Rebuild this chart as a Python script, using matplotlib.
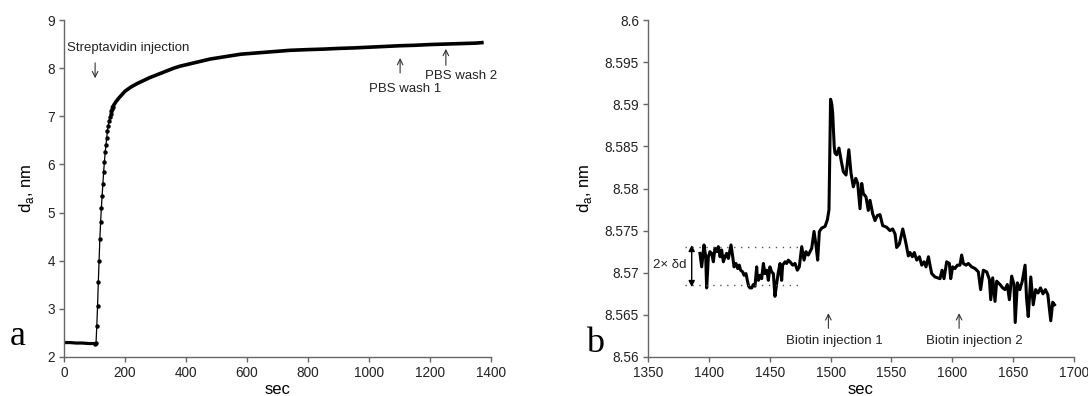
import numpy as np
import matplotlib
matplotlib.use("Agg")
import matplotlib.pyplot as plt
from matplotlib.ticker import FormatStrFormatter, MultipleLocator

plt.rcParams['font.family'] = ['Liberation Sans', 'DejaVu Sans']
plt.rcParams['mathtext.fontset'] = 'custom'
plt.rcParams['mathtext.rm'] = 'Liberation Sans'

# panel a: streptavidin adsorption
t_a = [0, 20, 40, 60, 80, 100, 102,
       105, 107.5, 110, 112.5, 115, 117.5, 120, 122.5, 125, 127.5, 130, 132.5,
       135, 137.5, 140, 142.5, 145, 147.5, 150, 152.5, 155, 157.5, 160,
       170, 180, 190, 200, 220, 240, 260, 280, 300, 320, 340, 360, 380, 400,
       420, 440, 460, 480, 500, 520, 540, 560, 580, 600, 620, 640, 660, 680,
       700, 720, 740, 760, 780, 800, 850, 900, 950, 1000, 1050, 1100, 1150,
       1200, 1250, 1300, 1350, 1370]
d_a = [2.30, 2.30, 2.29, 2.29, 2.28, 2.28, 2.28,
       2.29, 2.65, 3.05, 3.55, 4.00, 4.45, 4.80, 5.10, 5.35, 5.60, 5.85, 6.05,
       6.25, 6.40, 6.55, 6.70, 6.80, 6.90, 6.98, 7.04, 7.10, 7.15, 7.20,
       7.30, 7.38, 7.45, 7.52, 7.61, 7.68, 7.74, 7.80, 7.85, 7.90, 7.95, 8.00,
       8.04, 8.07, 8.10, 8.13, 8.16, 8.19, 8.21, 8.23, 8.25, 8.27, 8.29, 8.30,
       8.31, 8.32, 8.33, 8.34, 8.35, 8.36, 8.37, 8.375, 8.38, 8.385, 8.395,
       8.41, 8.42, 8.435, 8.45, 8.465, 8.475, 8.49, 8.50, 8.51, 8.52, 8.53]

# panel b: biotin injections
t_b = [1392.7, 1394.1, 1396.0, 1397.4, 1398.2, 1399.6, 1400.9, 1402.3, 1403.7,
       1405.0, 1406.4, 1407.8, 1409.2, 1410.5, 1411.9, 1413.3, 1414.6, 1416.0,
       1418.2, 1419.6, 1420.7, 1422.3, 1423.7, 1425.0, 1426.1, 1427.8, 1428.9,
       1430.5, 1431.6, 1432.7, 1433.8, 1435.2, 1436.5, 1437.9, 1439.3, 1439.8,
       1440.7, 1442.0, 1443.4, 1444.8, 1446.1, 1447.5, 1448.9, 1450.2, 1451.6,
       1453.0, 1454.3, 1455.7, 1457.1, 1458.5, 1459.8, 1460.6, 1462.6, 1463.9,
       1465.3, 1466.7, 1468.9, 1470.8, 1472.7, 1474.3, 1476.3, 1478.2, 1479.8,
       1481.7, 1484.5, 1486.4, 1488.0, 1489.4, 1490.8, 1492.7, 1495.5, 1497.4,
       1498.7, 1499.3, 1500.0, 1501.0, 1501.7, 1503.0, 1503.6, 1505.0, 1506.9,
       1508.6, 1510.5, 1512.7, 1515.0, 1516.8, 1518.7, 1520.7, 1522.3, 1524.2,
       1525.6, 1526.9, 1529.1, 1531.0, 1532.4, 1534.6, 1536.5, 1538.5, 1540.6,
       1542.8, 1546.1, 1548.8, 1551.0, 1553.0, 1554.3, 1556.5, 1559.3, 1561.2,
       1562.6, 1563.9, 1565.3, 1567.2, 1568.8, 1570.8, 1573.0, 1574.9, 1576.8,
       1578.4, 1580.4, 1581.7, 1583.1, 1585.8, 1589.9, 1591.6, 1593.2, 1595.4,
       1597.6, 1598.7, 1600.3, 1602.2, 1604.2, 1606.3, 1607.7, 1609.1, 1611.3,
       1613.2, 1615.9, 1618.7, 1621.4, 1623.3, 1625.5, 1628.3, 1630.5, 1631.6,
       1633.2, 1635.1, 1636.5, 1639.2, 1641.4, 1643.3, 1645.2, 1646.9, 1648.8,
       1650.7, 1651.7, 1653.5, 1655.5, 1657.5, 1659.8, 1661.0, 1662.4, 1664.5,
       1666.5, 1668.5, 1670.5, 1672.5, 1674.5, 1676.5, 1678.5, 1680.9, 1682.5,
       1684.0]
d_b = [8.5723, 8.5707, 8.5733, 8.5719, 8.5682, 8.5719, 8.5725, 8.5723, 8.5713,
       8.5729, 8.5725, 8.5731, 8.5719, 8.5727, 8.5713, 8.5719, 8.5723, 8.5717,
       8.5733, 8.5719, 8.5707, 8.5711, 8.5705, 8.5709, 8.5703, 8.5701, 8.5697,
       8.5699, 8.5691, 8.5684, 8.5682, 8.5682, 8.5686, 8.5684, 8.5707, 8.5695,
       8.5691, 8.5697, 8.5693, 8.5711, 8.5699, 8.5703, 8.5691, 8.5707, 8.5701,
       8.5699, 8.5672, 8.5687, 8.5701, 8.5711, 8.5691, 8.5709, 8.5713, 8.5711,
       8.5715, 8.5713, 8.5709, 8.5711, 8.5703, 8.5707, 8.5731, 8.5715, 8.5725,
       8.5721, 8.5729, 8.5749, 8.5733, 8.5715, 8.5749, 8.5753, 8.5755, 8.5763,
       8.5775, 8.5834, 8.5906, 8.5900, 8.5890, 8.5850, 8.5842, 8.5840, 8.5848,
       8.5834, 8.5820, 8.5816, 8.5846, 8.5818, 8.5802, 8.5812, 8.5806, 8.5776,
       8.5806, 8.5794, 8.5790, 8.5774, 8.5786, 8.5770, 8.5762, 8.5768, 8.5769,
       8.5756, 8.5754, 8.5750, 8.5752, 8.5746, 8.5730, 8.5734, 8.5752, 8.5740,
       8.5730, 8.5720, 8.5724, 8.5719, 8.5724, 8.5715, 8.5719, 8.5709, 8.5713,
       8.5707, 8.5719, 8.5709, 8.5699, 8.5695, 8.5693, 8.5703, 8.5693, 8.5713,
       8.5711, 8.5693, 8.5707, 8.5705, 8.5709, 8.5709, 8.5721, 8.5711, 8.5709,
       8.5711, 8.5707, 8.5705, 8.5701, 8.5680, 8.5703, 8.5701, 8.5692, 8.5668,
       8.5694, 8.5666, 8.5690, 8.5686, 8.5682, 8.5680, 8.5686, 8.5668, 8.5696,
       8.5686, 8.5641, 8.5688, 8.5680, 8.5690, 8.5709, 8.5670, 8.5648, 8.5695,
       8.5662, 8.5680, 8.5676, 8.5682, 8.5675, 8.5680, 8.5674, 8.5643, 8.5665,
       8.5662]

# noise band (2 x delta d) and injection times
band_lo, band_hi = 8.5686, 8.5730
band_t = (1380.4, 1477)
inj_b = [1498.2, 1605.6]

t_a = np.array(t_a)
d_a = np.array(d_a)

fig = plt.figure(figsize=(10.88, 3.96), dpi=100)
ax1 = fig.add_axes([64 / 1088, 1 - 357 / 396, 427 / 1088, 337 / 396])
ax2 = fig.add_axes([648 / 1088, 1 - 357 / 396, 426 / 1088, 337 / 396])

for ax in (ax1, ax2):
    for s in ('top', 'right'):
        ax.spines[s].set_visible(False)
    for s in ('left', 'bottom'):
        ax.spines[s].set_color('#666666')
        ax.spines[s].set_linewidth(1.0)
    ax.tick_params(direction='out', length=3.5, width=1.0, color='#666666',
                   labelsize=9.8, labelcolor='#222222', pad=3)

# --- panel a ---
rise = (t_a >= 102) & (t_a <= 160)
ax1.plot(t_a[t_a <= 102], d_a[t_a <= 102], color='k', lw=2.3)
ax1.plot(t_a[t_a >= 160], d_a[t_a >= 160], color='k', lw=2.6)
ax1.plot(t_a[rise], d_a[rise], color='k', lw=0.9, marker='o', ms=2.2)
ax1.set_xlim(0, 1400)
ax1.set_ylim(2, 9)
ax1.xaxis.set_major_locator(MultipleLocator(200))
ax1.yaxis.set_major_locator(MultipleLocator(1))
ax1.set_xlabel('sec', fontsize=12, va='center')
ax1.set_ylabel(r'd$_\mathrm{a}$, nm', fontsize=12, va='center')
ax1.xaxis.set_label_coords(0.5, -0.095)
ax1.yaxis.set_label_coords(-0.087, 0.5)

arr = dict(arrowstyle='->', lw=0.8, color='#333333', shrinkA=0, shrinkB=0)
ax1.annotate('', xy=(102, 7.79), xytext=(102, 8.11), arrowprops=arr)
ax1.annotate('', xy=(1102, 8.21), xytext=(1102, 7.90), arrowprops=arr)
ax1.annotate('', xy=(1252, 8.40), xytext=(1252, 8.06), arrowprops=arr)
ax1.text(210, 8.41, 'Streptavidin injection', ha='center', va='center', fontsize=9.5, color='#222222')
ax1.text(1118, 7.56, 'PBS wash 1', ha='center', va='center', fontsize=9.5, color='#222222')
ax1.text(1302, 7.84, 'PBS wash 2', ha='center', va='center', fontsize=9.5, color='#222222')

# --- panel b ---
ax2.plot(t_b, d_b, color='k', lw=2.2)
ax2.set_xlim(1350, 1700)
ax2.set_ylim(8.56, 8.6)
ax2.xaxis.set_major_locator(MultipleLocator(50))
ax2.yaxis.set_major_locator(MultipleLocator(0.005))
ax2.yaxis.set_major_formatter(FormatStrFormatter('%g'))
ax2.set_xlabel('sec', fontsize=12, va='center')
ax2.set_ylabel(r'd$_\mathrm{a}$, nm', fontsize=12, va='center')
ax2.xaxis.set_label_coords(0.5, -0.095)
ax2.yaxis.set_label_coords(-0.148, 0.5)

ax2.hlines([band_hi, band_lo], band_t[0], band_t[1], colors='#555555',
           linestyles=(0, (1, 4)), lw=1.0)
ax2.annotate('', xy=(1385.9, band_lo - 0.0003), xytext=(1385.9, band_hi + 0.0003),
             arrowprops=dict(arrowstyle='<|-|>', lw=1.0, color='k',
                             mutation_scale=9, shrinkA=0, shrinkB=0))
ax2.text(1367.7, 8.5709, '2× δd', ha='center', va='center', fontsize=9.5, color='#222222')
for t in inj_b:
    ax2.annotate('', xy=(t, 8.5652), xytext=(t, 8.5634), arrowprops=arr)
ax2.text(1502.8, 8.5619, 'Biotin injection 1', ha='center', va='center', fontsize=9.5, color='#222222')
ax2.text(1618.4, 8.5619, 'Biotin injection 2', ha='center', va='center', fontsize=9.5, color='#222222')

# panel letters
fig.text(10 / 1088, 1 - 345 / 396, 'a', fontsize=26, family='Liberation Serif', va='baseline')
fig.text(586 / 1088, 1 - 352 / 396, 'b', fontsize=26, family='Liberation Serif', va='baseline')

fig.savefig('out.png', dpi=100)
